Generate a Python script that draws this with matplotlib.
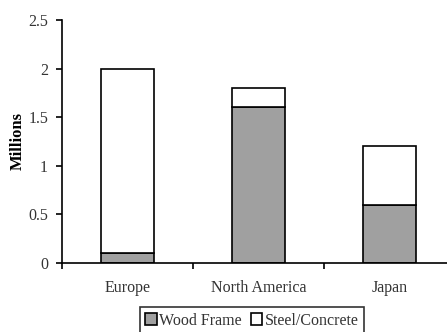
import numpy as np
import matplotlib.pyplot as plt

regions = ["Europe", "North America", "Japan"]
wood_frame = [0.1, 1.6, 0.6]
steel_concrete = [1.9, 0.2, 0.6]
yticks = [0, 0.5, 1, 1.5, 2, 2.5]
ytick_labels = ["0", "0.5", "1", "1.5", "2", "2.5"]

plt.rcParams["font.family"] = "Liberation Serif"
plt.rcParams["font.size"] = 11.5

fig = plt.figure(figsize=(4.47, 3.32), dpi=100)
ax = fig.add_axes([62 / 447, 69 / 332, 393 / 447, 243 / 332])

x = np.arange(len(regions))
w = 0.4
ax.bar(x, wood_frame, w, color="#a0a0a0", edgecolor="black", linewidth=1.2,
       label="Wood Frame")
ax.bar(x, steel_concrete, w, bottom=wood_frame, color="white",
       edgecolor="black", linewidth=1.2, label="Steel/Concrete")

ax.set_xlim(-0.5, 2.5)
ax.set_ylim(0, 2.5)
ax.set_yticks(yticks)
ax.set_yticklabels(ytick_labels, color="#333333")
ax.set_xticks(x)
ax.set_xticklabels(regions, color="#333333")
ax.set_xticks(np.arange(-0.5, 2.6, 1), minor=True)
ax.tick_params(axis="x", which="major", length=0, pad=12)
ax.tick_params(axis="x", which="minor", length=4, width=1.2, direction="out")
ax.tick_params(axis="y", length=4, width=1.2, direction="out", pad=6)
for s in ["top", "right"]:
    ax.spines[s].set_visible(False)
for s in ["left", "bottom"]:
    ax.spines[s].set_linewidth(1.2)
ax.set_ylabel("Millions", fontweight="bold", fontsize=12, labelpad=2)

leg = fig.legend(loc="upper center", bbox_to_anchor=(252 / 447, 25 / 332),
                 ncol=2, frameon=True, fancybox=False, edgecolor="black",
                 handlelength=0.7, handleheight=0.7, handletextpad=0.15,
                 columnspacing=0.6, borderpad=0.35, borderaxespad=0)
leg.get_frame().set_linewidth(1.2)
for t in leg.get_texts():
    t.set_color("#333333")

fig.savefig("out.png", dpi=100)
